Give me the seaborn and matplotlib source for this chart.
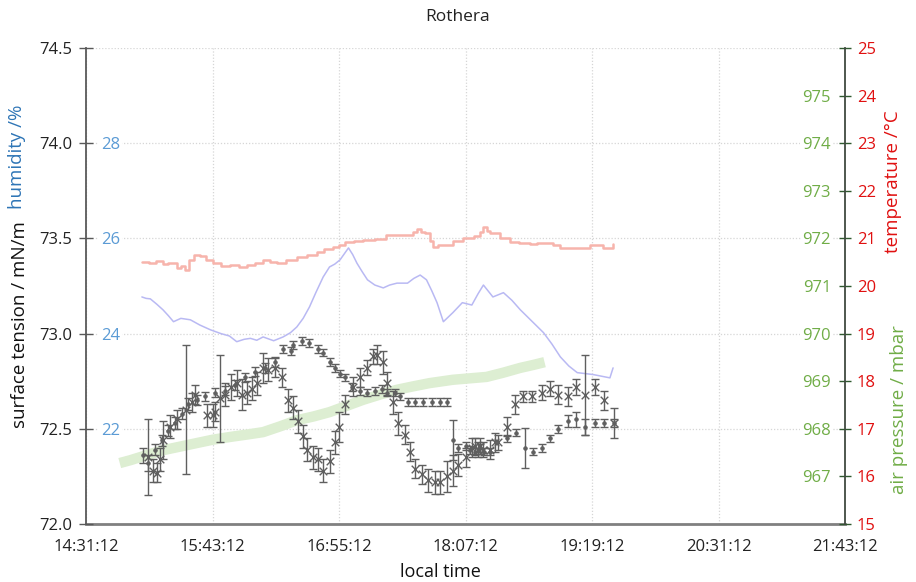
import matplotlib
matplotlib.use("Agg")
import matplotlib.pyplot as plt
import seaborn as sns
import pandas as pd
from matplotlib.ticker import FuncFormatter, FixedLocator

sns.set_style("white")
plt.rcParams['font.family'] = ['Open Sans', 'DejaVu Sans']

# ---------------- data (time in decimal hours, local time) ----------------
temp_time = [15.05, 15.12, 15.18, 15.25, 15.30, 15.38, 15.42, 15.46, 15.50, 15.54, 15.60, 15.66,
             15.72, 15.80, 15.89, 15.97, 16.05, 16.12, 16.20, 16.27, 16.33, 16.42, 16.52, 16.62,
             16.71, 16.78, 16.86, 16.92, 16.98, 17.06, 17.15, 17.26, 17.37, 17.46, 17.56, 17.62,
             17.66, 17.70, 17.74, 17.78, 17.81, 17.86, 17.91, 18.00, 18.10, 18.20, 18.26, 18.29,
             18.32, 18.35, 18.45, 18.54, 18.63, 18.73, 18.80, 18.89, 18.95, 19.02, 19.12, 19.23,
             19.30, 19.36, 19.42, 19.48, 19.52]
temp_val = [20.50, 20.48, 20.52, 20.46, 20.48, 20.38, 20.42, 20.34, 20.55, 20.65, 20.62, 20.55,
            20.48, 20.42, 20.44, 20.40, 20.44, 20.48, 20.55, 20.50, 20.48, 20.55, 20.61, 20.66,
            20.71, 20.78, 20.82, 20.86, 20.92, 20.95, 20.97, 20.99, 21.07, 21.07, 21.07, 21.13,
            21.20, 21.13, 21.11, 20.95, 20.82, 20.86, 20.86, 20.95, 21.01, 21.05, 21.13, 21.24,
            21.15, 21.11, 21.01, 20.92, 20.90, 20.88, 20.90, 20.90, 20.86, 20.80, 20.80, 20.80,
            20.86, 20.86, 20.80, 20.80, 20.88]

hum_time = [15.05, 15.09, 15.13, 15.19, 15.25, 15.30, 15.35, 15.42, 15.51, 15.60, 15.70, 15.80,
            15.88, 15.95, 16.02, 16.08, 16.14, 16.20, 16.30, 16.39, 16.46, 16.52, 16.58, 16.64,
            16.70, 16.77, 16.83, 16.88, 16.93, 17.01, 17.05, 17.09, 17.14, 17.19, 17.26, 17.34,
            17.40, 17.47, 17.57, 17.63, 17.69, 17.75, 17.80, 17.85, 17.91, 18.00, 18.09, 18.18,
            18.24, 18.29, 18.38, 18.48, 18.56, 18.64, 18.75, 18.86, 18.94, 19.02, 19.10, 19.18,
            19.33, 19.49, 19.52]
hum_val = [24.77, 24.74, 24.73, 24.62, 24.50, 24.38, 24.25, 24.32, 24.29, 24.18, 24.08, 24.00,
           23.95, 23.83, 23.88, 23.90, 23.86, 23.93, 23.85, 23.93, 24.02, 24.14, 24.32, 24.56,
           24.86, 25.19, 25.40, 25.46, 25.55, 25.80, 25.66, 25.48, 25.30, 25.13, 25.02, 24.96,
           25.02, 25.06, 25.06, 25.16, 25.23, 25.13, 24.90, 24.65, 24.25, 24.44, 24.65, 24.60,
           24.84, 25.02, 24.77, 24.86, 24.70, 24.50, 24.26, 24.02, 23.78, 23.51, 23.32, 23.18,
           23.14, 23.07, 23.28]

pres_time = [14.84, 14.94, 15.10, 15.25, 15.40, 15.57, 15.72, 15.89, 16.05, 16.20, 16.36, 16.52,
             16.68, 16.83, 16.99, 17.15, 17.31, 17.47, 17.62, 17.78, 18.00, 18.16, 18.32, 18.48,
             18.64, 18.76, 18.87]
pres_val = [967.28, 967.34, 967.45, 967.55, 967.62, 967.70, 967.77, 967.83, 967.88, 967.93, 968.05,
            968.18, 968.26, 968.35, 968.48, 968.61, 968.72, 968.82, 968.89, 968.96, 969.03, 969.06,
            969.09, 969.18, 969.28, 969.34, 969.40]

# surface tension, series measured with crosses (larger uncertainty)
stA_time = [15.11, 15.16, 15.19, 15.22, 15.25, 15.32, 15.38, 15.47, 15.53, 15.55, 15.67, 15.72,
            15.74, 15.79, 15.84, 15.90, 15.95, 16.00, 16.05, 16.09, 16.14, 16.20, 16.25, 16.31,
            16.38, 16.44, 16.48, 16.53, 16.58, 16.62, 16.67, 16.72, 16.77, 16.83, 16.88, 16.92,
            16.98, 17.05, 17.12, 17.19, 17.24, 17.28, 17.34, 17.38, 17.43, 17.48, 17.55, 17.59,
            17.64, 17.71, 17.76, 17.83, 17.88, 17.94, 18.00, 18.05, 18.12, 18.18, 18.21, 18.24,
            18.26, 18.29, 18.35, 18.40, 18.43, 18.51, 18.59, 18.67, 18.75, 18.85, 18.92, 19.00,
            19.09, 19.17, 19.25, 19.35, 19.43, 19.53]
stA_val = [72.35, 72.28, 72.27, 72.34, 72.44, 72.51, 72.55, 72.60, 72.64, 72.68, 72.57, 72.57,
           72.59, 72.66, 72.68, 72.72, 72.74, 72.68, 72.69, 72.71, 72.74, 72.82, 72.81, 72.82,
           72.77, 72.65, 72.61, 72.54, 72.46, 72.39, 72.35, 72.34, 72.28, 72.33, 72.43, 72.51,
           72.63, 72.72, 72.77, 72.82, 72.88, 72.89, 72.85, 72.74, 72.64, 72.53, 72.47, 72.38,
           72.29, 72.26, 72.23, 72.22, 72.22, 72.25, 72.28, 72.31, 72.35, 72.40, 72.41, 72.39,
           72.41, 72.39, 72.39, 72.43, 72.43, 72.51, 72.63, 72.67, 72.67, 72.69, 72.71, 72.68,
           72.67, 72.72, 72.68, 72.72, 72.65, 72.53]
stA_err = [0.20, 0.06, 0.05, 0.06, 0.10, 0.06, 0.05, 0.34, 0.05, 0.05, 0.06, 0.06,
           0.05, 0.23, 0.06, 0.07, 0.07, 0.08, 0.06, 0.06, 0.06, 0.08, 0.06, 0.05,
           0.05, 0.06, 0.06, 0.06, 0.06, 0.06, 0.06, 0.06, 0.06, 0.06, 0.06, 0.08,
           0.05, 0.05, 0.05, 0.04, 0.04, 0.05, 0.06, 0.06, 0.06, 0.06, 0.05, 0.05,
           0.05, 0.05, 0.06, 0.06, 0.06, 0.08, 0.08, 0.06, 0.05, 0.05, 0.04, 0.04,
           0.04, 0.04, 0.05, 0.05, 0.04, 0.05, 0.05, 0.03, 0.03, 0.04, 0.04, 0.05,
           0.05, 0.04, 0.21, 0.04, 0.05, 0.08]

# surface tension, series measured with dots (small uncertainty)
stB_time = [15.06, 15.11, 15.17, 15.24, 15.30, 15.36, 15.43, 15.49, 15.57, 15.65, 15.74, 15.84,
            15.93, 16.03, 16.12, 16.22, 16.31, 16.39, 16.46, 16.48, 16.57, 16.64, 16.72, 16.77,
            16.83, 16.88, 16.93, 16.98, 17.04, 17.12, 17.19, 17.26, 17.33, 17.38, 17.45, 17.50,
            17.57, 17.64, 17.72, 17.80, 17.88, 17.94, 18.00, 18.05, 18.12, 18.16, 18.21, 18.26,
            18.30, 18.35, 18.51, 18.60, 18.68, 18.76, 18.85, 18.92, 19.00, 19.09, 19.17, 19.25,
            19.35, 19.43, 19.53]
stB_val = [72.36, 72.32, 72.39, 72.44, 72.49, 72.53, 72.58, 72.63, 72.65, 72.67, 72.69, 72.70,
           72.73, 72.77, 72.80, 72.82, 72.85, 72.92, 72.91, 72.94, 72.96, 72.95, 72.92, 72.90,
           72.85, 72.82, 72.79, 72.77, 72.72, 72.70, 72.69, 72.70, 72.71, 72.69, 72.69, 72.67,
           72.64, 72.64, 72.64, 72.64, 72.64, 72.64, 72.44, 72.40, 72.41, 72.39, 72.38, 72.40,
           72.38, 72.38, 72.45, 72.48, 72.40, 72.38, 72.40, 72.45, 72.50, 72.54, 72.55, 72.51,
           72.53, 72.53, 72.53]
stB_err = [0.04, 0.04, 0.03, 0.03, 0.03, 0.03, 0.03, 0.03, 0.025, 0.025, 0.025, 0.025,
           0.025, 0.025, 0.025, 0.025, 0.025, 0.02, 0.02, 0.02, 0.02, 0.02, 0.02, 0.02,
           0.02, 0.02, 0.02, 0.02, 0.02, 0.02, 0.02, 0.02, 0.02, 0.02, 0.02, 0.02,
           0.02, 0.02, 0.02, 0.02, 0.02, 0.02, 0.105, 0.02, 0.02, 0.02, 0.02, 0.02,
           0.02, 0.02, 0.02, 0.02, 0.105, 0.02, 0.02, 0.02, 0.02, 0.03, 0.04, 0.04,
           0.02, 0.02, 0.02]

xtick_hours = [14.52, 15.72, 16.92, 18.12, 19.32, 20.52, 21.72]
st_ticks = [72.0, 72.5, 73.0, 73.5, 74.0, 74.5]
hum_ticks = [22, 24, 26, 28]
temp_ticks = list(range(15, 26))
pres_ticks = list(range(967, 976))

# ---------------- colours ----------------
C_GRAY = '#5f5f5f'
C_BLUE = '#5B9BD5'
C_BLUE_LBL = '#2E75B6'
C_RED = '#E01010'
C_GREEN = '#70AD47'

W, H = 916, 582
fig = plt.figure(figsize=(W / 100, H / 100), dpi=100)
rect = [86 / W, 1 - 524 / H, (845 - 86) / W, (524 - 48) / H]

axG = fig.add_axes(rect, zorder=0)
axP = axG.twinx()
axT = axG.twinx()
axH = axG.twinx()
ax = axG.twinx()
for z, a in zip([1, 2, 3, 4], [axP, axT, axH, ax]):
    a.set_zorder(z)
    a.patch.set_visible(False)

def hms(v, pos=None):
    tot = int(round(v * 3600))
    h, rem = divmod(tot, 3600)
    m, s = divmod(rem, 60)
    return f"{h}:{m:02d}:{s:02d}"

# base axes: grid and x axis
axG.set_xlim(xtick_hours[0], xtick_hours[-1])
axG.set_ylim(72.0, 74.5)
axG.set_xticks(xtick_hours)
axG.xaxis.set_major_formatter(FuncFormatter(hms))
axG.set_yticks(st_ticks)
axG.tick_params(axis='y', left=False, labelleft=False, right=False, labelright=False)
axG.tick_params(axis='x', direction='out', length=5, width=1, color='#7f7f7f',
                labelsize=12, labelcolor='#222222', pad=6)
axG.grid(True, which='major', color='#d6d6d6', linestyle=(0, (1, 1.5)), linewidth=0.9)
for s in ['top', 'left', 'right']:
    axG.spines[s].set_visible(False)
axG.spines['bottom'].set_color('#808080')
axG.spines['bottom'].set_linewidth(2)

# pressure
dfP = pd.DataFrame({'t': pres_time, 'p': pres_val})
sns.lineplot(data=dfP, x='t', y='p', ax=axP, color='#DDEED2', linewidth=7.5,
             estimator=None, sort=False, solid_capstyle='butt')
axP.set_ylim(966, 976)
axP.yaxis.set_major_locator(FixedLocator(pres_ticks))
axP.tick_params(axis='y', right=True, labelright=True, left=False, labelleft=False,
                length=0, labelsize=12, labelcolor=C_GREEN, pad=-10)
for lbl in axP.get_yticklabels():
    lbl.set_horizontalalignment('right')
    lbl.set_bbox(dict(facecolor='white', edgecolor='none', pad=1.5))

# temperature
dfT = pd.DataFrame({'t': temp_time, 'T': temp_val})
sns.lineplot(data=dfT, x='t', y='T', ax=axT, color='#F7B4AC', linewidth=1.8,
             estimator=None, sort=False, drawstyle='steps-post')
axT.set_ylim(15, 25)
axT.yaxis.set_major_locator(FixedLocator(temp_ticks))
axT.tick_params(axis='y', right=True, labelright=True, direction='inout', length=9,
                width=1, color='#2f5a2f', labelsize=12, labelcolor=C_RED, pad=4)

# humidity
dfH = pd.DataFrame({'t': hum_time, 'h': hum_val})
sns.lineplot(data=dfH, x='t', y='h', ax=axH, color='#B9B9F3', linewidth=1.1,
             estimator=None, sort=False)
axH.set_ylim(20, 30)
axH.yaxis.tick_left()
axH.yaxis.set_major_locator(FixedLocator(hum_ticks))
axH.tick_params(axis='y', left=True, labelleft=True, right=False, labelright=False,
                length=0, labelsize=12, labelcolor=C_BLUE, pad=-11)
for lbl in axH.get_yticklabels():
    lbl.set_horizontalalignment('left')
    lbl.set_bbox(dict(facecolor='white', edgecolor='none', pad=1.5))

# surface tension
ax.set_ylim(72.0, 74.5)
ax.yaxis.tick_left()
ax.set_yticks(st_ticks)
ax.yaxis.set_major_formatter(FuncFormatter(lambda v, p: f"{v:.1f}"))
ax.tick_params(axis='y', left=True, labelleft=True, right=False, labelright=False,
               direction='inout', length=10, width=1, color='#595959',
               labelsize=12, labelcolor='#222222', pad=5)
ax.errorbar(stB_time, stB_val, yerr=stB_err, fmt='none', ecolor=C_GRAY,
            elinewidth=1.0, capsize=3, capthick=1.0)
ax.errorbar(stA_time, stA_val, yerr=stA_err, fmt='none', ecolor=C_GRAY,
            elinewidth=1.0, capsize=3.2, capthick=1.0)
dfA = pd.DataFrame({'t': stA_time, 's': stA_val})
dfB = pd.DataFrame({'t': stB_time, 's': stB_val})
sns.scatterplot(data=dfA, x='t', y='s', ax=ax, marker='x', s=30, color=C_GRAY,
                linewidth=1.0)
sns.scatterplot(data=dfB, x='t', y='s', ax=ax, marker='o', s=7, color=C_GRAY,
                edgecolor=C_GRAY, linewidth=0.5)

for a in [axP, axT, axH, ax]:
    a.set_xlabel('')
    a.set_ylabel('')
    for s in ['top', 'bottom', 'left', 'right']:
        a.spines[s].set_visible(False)
ax.spines['left'].set_visible(True)
ax.spines['left'].set_color('#595959')
ax.spines['left'].set_linewidth(1.3)
axT.spines['right'].set_visible(True)
axT.spines['right'].set_color('#404a40')
axT.spines['right'].set_linewidth(1.3)
axG.set_xlabel('')
axG.set_ylabel('')

# titles and axis labels
fig.text(0.5, 1 - 17 / H, 'Rothera', ha='center', va='center', fontsize=12.5,
         color='#222222')
fig.text(440 / W, 1 - 572 / H, 'local time', ha='center', va='center', fontsize=13,
         color='#111111')
fig.text(20 / W, 1 - 325 / H, 'surface tension / mN/m', rotation=90, ha='center',
         va='center', fontsize=13.5, color='#111111')
fig.text(17 / W, 1 - 157 / H, 'humidity /%', rotation=90, ha='center', va='center',
         fontsize=13.5, color=C_BLUE_LBL)
fig.text(893 / W, 1 - 182 / H, 'temperature /°C', rotation=90, ha='center',
         va='center', fontsize=13.5, color=C_RED)
fig.text(899 / W, 1 - 410 / H, 'air pressure / mbar', rotation=90, ha='center',
         va='center', fontsize=13.5, color=C_GREEN)

fig.savefig('out.png', dpi=100)
